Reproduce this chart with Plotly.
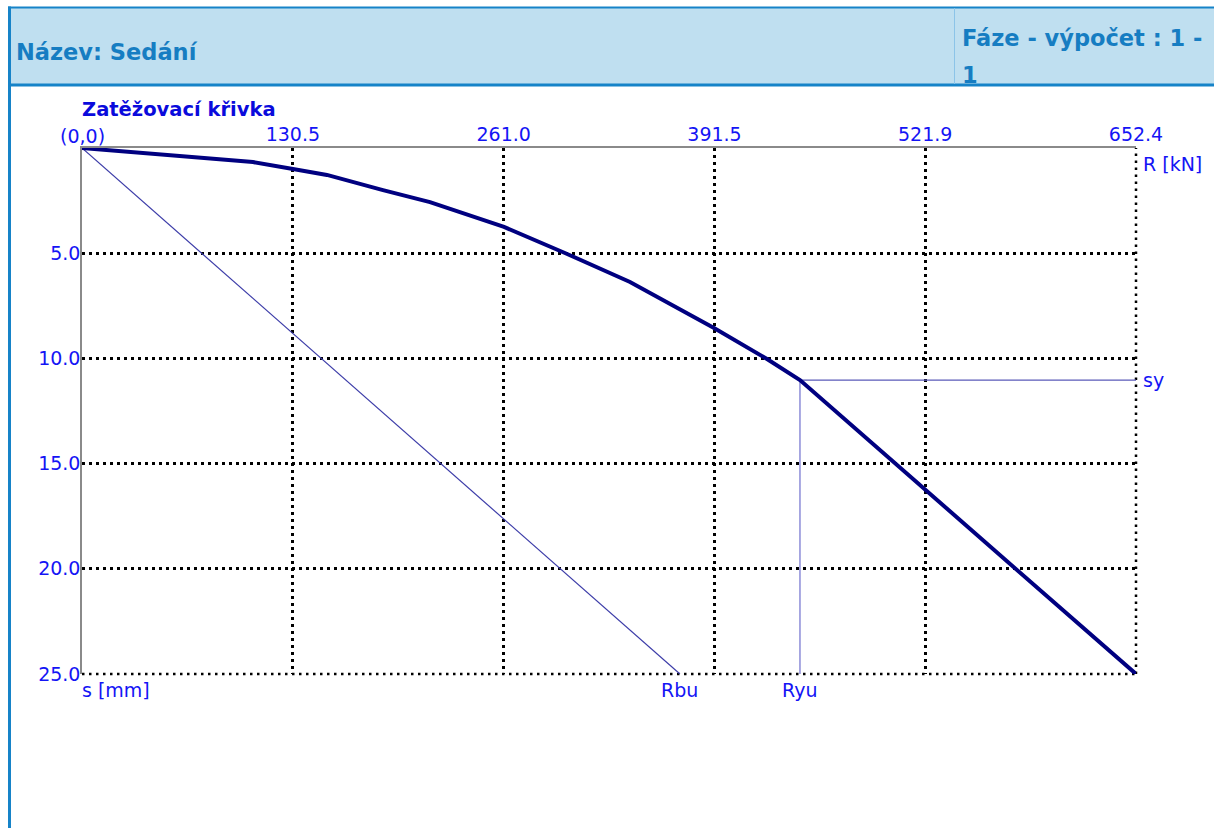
import plotly.graph_objects as go

# ---- data ----
R_curve = [0, 105.8, 130.6, 151.6, 186.3, 215.4, 261.2, 298.9, 339.2, 391.2, 424.0, 444.4, 652.4]
s_curve = [0, 0.67, 1.0, 1.28, 2.0, 2.57, 3.75, 4.99, 6.37, 8.56, 10.03, 11.03, 25.0]
R_bu = 370.1
R_yu = 444.4
s_y = 11.03
R_max = 652.4
s_max = 25.0
x_ticks = [130.5, 261.0, 391.5, 521.9, 652.4]
x_tick_text = ["130.5", "261.0", "391.5", "521.9", "652.4"]
y_ticks = [5.0, 10.0, 15.0, 20.0, 25.0]
y_tick_text = ["5.0", "10.0", "15.0", "20.0", "25.0"]

W, H = 1214, 828
L, T, Rr, B = 82, 148, 78, 154
PW, PH = W - L - Rr, H - T - B

def px(x):
    return (x - L) / PW

def py(y):
    return (H - B - y) / PH

BLUE_TXT = "#1414F5"
HDR_TXT = "#167DC2"
HDR_LINE = "#1683C8"
HDR_FILL = "#BFDFF0"
DOTS = "2.5px,4.5px"

fig = go.Figure()

fig.add_trace(go.Scatter(x=[0, R_bu], y=[0, s_max], mode="lines",
                         line=dict(color="#3C3CA8", width=1.2), hoverinfo="skip"))
fig.add_trace(go.Scatter(x=[R_yu, R_yu], y=[s_y, s_max], mode="lines",
                         line=dict(color="#8C8CD8", width=1.5), hoverinfo="skip"))
fig.add_trace(go.Scatter(x=[R_yu, R_max], y=[s_y, s_y], mode="lines",
                         line=dict(color="#5A5AB8", width=1.2), hoverinfo="skip"))
fig.add_trace(go.Scatter(x=R_curve, y=s_curve, mode="lines",
                         line=dict(color="#000080", width=4), hoverinfo="skip"))

grid = dict(showgrid=True, gridcolor="black", gridwidth=2.5, griddash=DOTS,
            zeroline=False, ticks="", showline=True, linecolor="#8a8a8a", linewidth=1.5)

fig.update_xaxes(range=[0, R_max], side="top", tickvals=x_ticks, ticktext=x_tick_text,
                 ticklabelstandoff=-2,
                 tickfont=dict(family="DejaVu Sans", size=19, color=BLUE_TXT), **grid)
fig.update_yaxes(range=[s_max, 0], tickvals=y_ticks, ticktext=y_tick_text,
                 ticklabelstandoff=-4,
                 tickfont=dict(family="DejaVu Sans", size=19, color=BLUE_TXT), **grid)

shapes = [
    dict(type="rect", xref="paper", yref="paper", x0=px(10), x1=px(W + 5), y0=py(85), y1=py(7.5),
         fillcolor=HDR_FILL, line=dict(width=0), layer="below"),
    dict(type="line", xref="paper", yref="paper", x0=px(8), x1=px(W + 5), y0=py(7.5), y1=py(7.5),
         line=dict(color=HDR_LINE, width=2)),
    dict(type="line", xref="paper", yref="paper", x0=px(8), x1=px(W + 5), y0=py(85), y1=py(85),
         line=dict(color=HDR_LINE, width=3)),
    dict(type="line", xref="paper", yref="paper", x0=px(9.5), x1=px(9.5), y0=py(6.5), y1=py(H + 5),
         line=dict(color=HDR_LINE, width=3)),
    dict(type="line", xref="paper", yref="paper", x0=px(954.5), x1=px(954.5), y0=py(8), y1=py(84),
         line=dict(color="#8CC4E8", width=1)),
    # edge grid lines that plotly omits at the range limits (right and bottom of plot area)
    dict(type="line", xref="paper", yref="paper", x0=1, x1=1, y0=0, y1=1,
         line=dict(color="black", width=2.5, dash=DOTS), layer="below"),
    dict(type="line", xref="paper", yref="paper", x0=0, x1=1, y0=0, y1=0,
         line=dict(color="black", width=2.5, dash=DOTS), layer="below"),
]

lab = dict(family="DejaVu Sans", size=19, color=BLUE_TXT)
hdr = dict(family="DejaVu Sans", size=22.5, color=HDR_TXT)
annotations = [
    dict(text="<b>Název: Sedání</b>", xref="paper", yref="paper", x=px(14), y=py(52),
         xanchor="left", yanchor="middle", showarrow=False, font=hdr),
    dict(text="<b>Fáze - výpočet : 1 -</b>", xref="paper", yref="paper", x=px(960), y=py(38),
         xanchor="left", yanchor="middle", showarrow=False, font=hdr),
    dict(text="<b>1</b>", xref="paper", yref="paper", x=px(960), y=py(75),
         xanchor="left", yanchor="middle", showarrow=False, font=hdr),
    dict(text="<b>Zatěžovací křivka</b>", xref="paper", yref="paper", x=px(80), y=py(110),
         xanchor="left", yanchor="middle", showarrow=False,
         font=dict(family="DejaVu Sans", size=19.5, color="#0A0ADC")),
    dict(text="(0,0)", xref="x", yref="paper", x=0, y=py(136),
         xanchor="center", yanchor="middle", showarrow=False, font=lab),
    dict(text="R [kN]", xref="paper", yref="paper", x=px(1141), y=py(164),
         xanchor="left", yanchor="middle", showarrow=False, font=lab),
    dict(text="sy", xref="paper", yref="y", x=px(1141), y=s_y,
         xanchor="left", yanchor="middle", showarrow=False, font=lab),
    dict(text="s [mm]", xref="paper", yref="paper", x=px(80), y=py(690),
         xanchor="left", yanchor="middle", showarrow=False, font=lab),
    dict(text="Rbu", xref="x", yref="paper", x=R_bu, y=py(690),
         xanchor="center", yanchor="middle", showarrow=False, font=lab),
    dict(text="Ryu", xref="x", yref="paper", x=R_yu, y=py(690),
         xanchor="center", yanchor="middle", showarrow=False, font=lab),
]

fig.update_layout(width=W, height=H, margin=dict(l=L, r=Rr, t=T, b=B, pad=0),
                  paper_bgcolor="white", plot_bgcolor="white", showlegend=False,
                  shapes=shapes, annotations=annotations)

fig.write_html("out.html")
